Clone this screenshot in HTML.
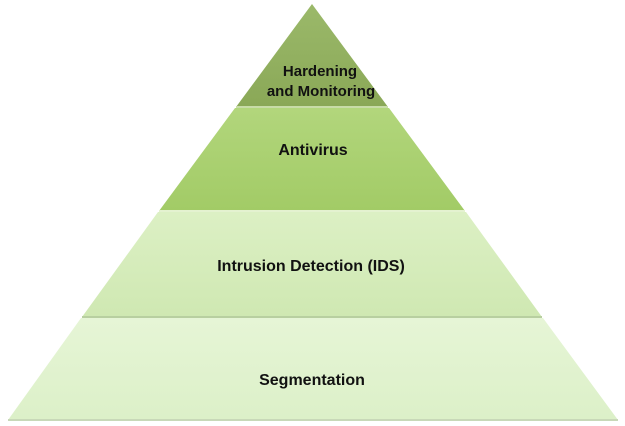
<!DOCTYPE html>
<html><head><meta charset="utf-8"><style>
body{margin:0;background:#fff;}
svg{display:block;}
text{font-family:"Liberation Sans",sans-serif;font-weight:bold;font-size:16px;fill:#111;text-anchor:middle;}
.s{font-size:14px;}
</style></head><body>
<svg width="625" height="426" viewBox="0 0 625 426">
<defs>
<linearGradient id="g1" x1="0" y1="0" x2="0" y2="1"><stop offset="0" stop-color="#9bb96a"/><stop offset="1" stop-color="#8aa857"/></linearGradient>
<linearGradient id="g2" x1="0" y1="0" x2="0" y2="1"><stop offset="0" stop-color="#b2d67c"/><stop offset="1" stop-color="#a2cb66"/></linearGradient>
<linearGradient id="g3" x1="0" y1="0" x2="0" y2="1"><stop offset="0" stop-color="#dcf0c4"/><stop offset="1" stop-color="#cfe8b2"/></linearGradient>
<linearGradient id="g4" x1="0" y1="0" x2="0" y2="1"><stop offset="0" stop-color="#e6f5d6"/><stop offset="1" stop-color="#dcf0c8"/></linearGradient>
</defs>
<polygon points="312,4 388,107 236,107" fill="url(#g1)"/>
<polygon points="235,108 389,108 465,211 159,211" fill="url(#g2)"/>
<polygon points="158,212 466,212 542,317 82,317" fill="url(#g3)"/>
<polygon points="81,318 543,318 618,420 8,420" fill="url(#g4)"/>
<line x1="236" y1="107" x2="388" y2="107" stroke="#c8dca8" stroke-width="2"/>
<line x1="159" y1="211" x2="465" y2="211" stroke="#e4f2d0" stroke-width="2"/>
<line x1="82" y1="317" x2="542" y2="317" stroke="#b8cfa0" stroke-width="2"/>
<line x1="8" y1="420" x2="618" y2="420" stroke="#c8d8b8" stroke-width="2"/>
<text x="320" y="76" class="s" style="font-size:15px">Hardening</text>
<text x="321" y="96" class="s" style="font-size:15px">and Monitoring</text>
<text x="313" y="155">Antivirus</text>
<text x="311" y="271">Intrusion Detection (IDS)</text>
<text x="312" y="385">Segmentation</text>
</svg>
</body></html>
